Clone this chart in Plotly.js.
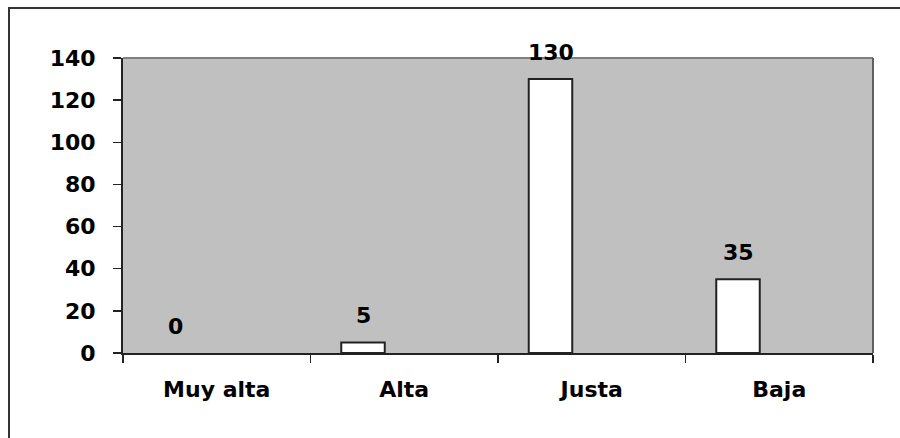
<!DOCTYPE html>
<html>
<head>
<meta charset="utf-8">
<script src="https://cdn.plot.ly/plotly-3.0.1.min.js"></script>
<style>
  html, body { margin: 0; padding: 0; background: #fff; overflow: hidden; }
  #wrap { position: relative; width: 900px; height: 438px; }
  #frame { position: absolute; left: 8px; top: 7px; width: 900px; height: 440px;
           border-left: 2px solid #333; border-top: 2px solid #333; pointer-events: none; }
  #chart { position: absolute; left: 0; top: 0; width: 900px; height: 438px; }
</style>
</head>
<body>
<div id="wrap">
  <div id="chart"></div>
  <div id="frame"></div>
</div>
<script>
// Response categories and counts
const categories = ["Muy alta", "Alta", "Justa", "Baja"];
const counts = [0, 5, 130, 35];
const yTicks = [0, 20, 40, 60, 80, 100, 120, 140];

const font = { family: "DejaVu Sans, Verdana, sans-serif", size: 22, color: "#000", weight: 700 };

// Bars sit left of each category centre
const barOffset = -0.336;
const barWidth = 0.232;
const labelShiftX = -41;

const trace = {
  type: "bar",
  x: categories,
  y: counts,
  offset: barOffset,
  width: barWidth,
  marker: {
    color: "#ffffff",
    // an empty bar gets no outline
    line: { color: "#222", width: counts.map(v => (v > 0 ? 2 : 0)) }
  },
  hoverinfo: "skip"
};

const labels = categories.map((c, i) => ({
  x: c, y: counts[i], xref: "x", yref: "y",
  text: String(counts[i]), showarrow: false,
  xanchor: "center", yanchor: "middle",
  xshift: labelShiftX, yshift: 27,
  font: font
}));

const layout = {
  width: 900, height: 438,
  margin: { l: 123, r: 27, t: 58, b: 85 },
  paper_bgcolor: "rgba(0,0,0,0)",
  plot_bgcolor: "#c0c0c0",
  showlegend: false,
  font: font,
  xaxis: {
    type: "category",
    tickson: "boundaries",
    ticks: "outside", ticklen: 8, tickwidth: 1.5, tickcolor: "#222",
    showline: true, linecolor: "#222", linewidth: 2,
    showgrid: false, zeroline: false,
    ticklabelstandoff: 16,
    tickfont: font,
    fixedrange: true
  },
  yaxis: {
    range: [0, 140],
    tickvals: yTicks, ticktext: yTicks.map(String),
    ticks: "outside", ticklen: 8, tickwidth: 1.5, tickcolor: "#222",
    showline: true, linecolor: "#222", linewidth: 2,
    showgrid: false, zeroline: false,
    ticklabelstandoff: 13,
    tickfont: font,
    fixedrange: true
  },
  shapes: [
    { type: "line", xref: "paper", yref: "paper", x0: 0, x1: 1, y0: 1, y1: 1,
      line: { color: "#808080", width: 2 } },
    { type: "line", xref: "paper", yref: "paper", x0: 1, x1: 1, y0: 0, y1: 1,
      line: { color: "#606060", width: 2 } }
  ],
  annotations: labels
};

Plotly.newPlot("chart", [trace], layout, { displayModeBar: false, staticPlot: true });
</script>
</body>
</html>
